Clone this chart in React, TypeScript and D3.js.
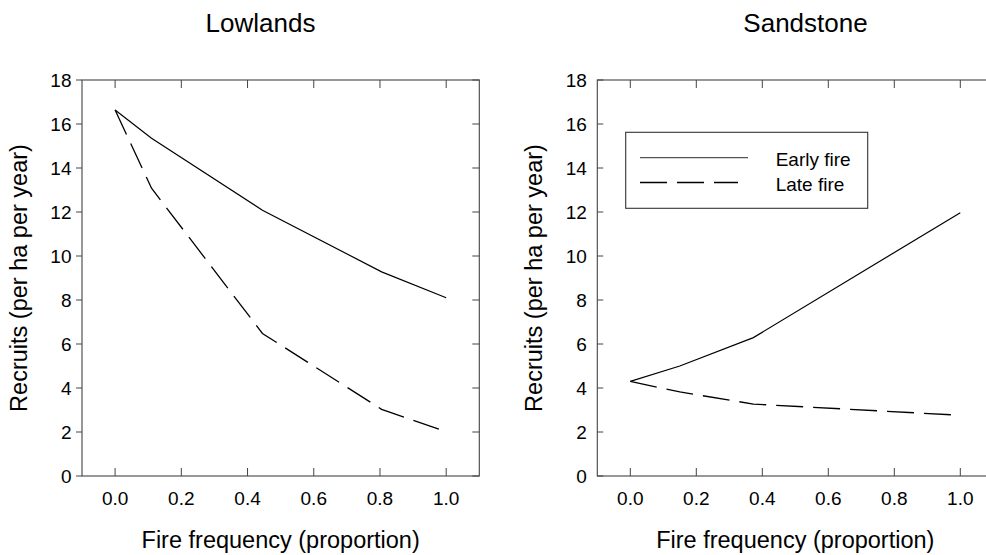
import React from "react";
import * as d3 from "d3";

const xTicks = [0, 0.2, 0.4, 0.6, 0.8, 1.0];
const yTicks = [0, 2, 4, 6, 8, 10, 12, 14, 16, 18];

const lowlandsX = [0, 0.11, 0.445, 0.805, 1.0];
const lowlandsEarly = [16.64, 15.35, 12.08, 9.28, 8.1];
const lowlandsLate = [16.64, 13.08, 6.48, 3.03, 2.01];

const sandstoneX = [0, 0.15, 0.373, 1.0];
const sandstoneEarly = [4.3, 5.0, 6.29, 11.97];
const sandstoneLate = [4.3, 3.82, 3.27, 2.76];

const panelTitles = ["Lowlands", "Sandstone"];
const seriesNames = ["Early fire", "Late fire"];
const xLabel = "Fire frequency (proportion)";
const yLabel = "Recruits (per ha per year)";

const FONT = "'Liberation Sans', Arial, Helvetica, sans-serif";
const FRAME = "#444";

type PanelProps = {
  x0: number;
  x1: number;
  title: string;
  titleX: number;
  xs: number[];
  early: number[];
  late: number[];
  yTickOut: boolean;
  legend?: boolean;
};

function Panel({ x0, x1, title, titleX, xs, early, late, yTickOut, legend }: PanelProps) {
  const top = 80;
  const bottom = 476;
  const x = d3.scaleLinear().domain([-0.1, 1.1]).range([x0, x1]);
  const y = d3.scaleLinear().domain([0, 18]).range([bottom, top]);
  const line = d3
    .line<[number, number]>()
    .x((d) => x(d[0]))
    .y((d) => y(d[1]));
  const earlyPath = line(xs.map((v, i) => [v, early[i]] as [number, number])) || "";
  const latePath = line(xs.map((v, i) => [v, late[i]] as [number, number])) || "";
  const cx = (x0 + x1) / 2;
  const cy = (top + bottom) / 2;
  return (
    <g>
      <text x={titleX} y={32} textAnchor="middle" fontSize={26} fontFamily={FONT} fill="#000">
        {title}
      </text>
      <rect x={x0} y={top} width={x1 - x0} height={bottom - top} fill="none" stroke={FRAME} strokeWidth={1.1} />
      {xTicks.map((t) => (
        <g key={"xt" + t}>
          <line x1={x(t)} x2={x(t)} y1={bottom} y2={bottom - 8} stroke={FRAME} strokeWidth={1} />
          <line x1={x(t)} x2={x(t)} y1={top} y2={top + 8} stroke={FRAME} strokeWidth={1} />
          <text x={x(t)} y={505} textAnchor="middle" fontSize={19} fontFamily={FONT} fill="#000">
            {t.toFixed(1)}
          </text>
        </g>
      ))}
      {yTicks.map((t) => (
        <g key={"yt" + t}>
          <line
            x1={x0}
            x2={yTickOut ? x0 - 6 : x0 + 6}
            y1={y(t)}
            y2={y(t)}
            stroke={FRAME}
            strokeWidth={1}
          />
          <line x1={x1} x2={x1 - 7} y1={y(t)} y2={y(t)} stroke={FRAME} strokeWidth={1} />
          <text
            x={x0 - 10.5}
            y={y(t)}
            dy="0.35em"
            textAnchor="end"
            fontSize={19}
            fontFamily={FONT}
            fill="#000"
          >
            {t}
          </text>
        </g>
      ))}
      <text x={cx} y={548} textAnchor="middle" fontSize={23.5} fontFamily={FONT} fill="#000">
        {xLabel}
      </text>
      <text
        transform={`translate(${x0 - 55},${cy}) rotate(-90)`}
        textAnchor="middle"
        fontSize={23.5}
        fontFamily={FONT}
        fill="#000"
      >
        {yLabel}
      </text>
      <path d={earlyPath} fill="none" stroke="#000" strokeWidth={1.2} />
      <path d={latePath} fill="none" stroke="#000" strokeWidth={1.3} strokeDasharray="27,10" />
      {legend && (
        <g>
          <rect x={625.7} y={132.3} width={242} height={76} fill="#fff" stroke="#333" strokeWidth={1.1} />
          <line x1={640} x2={748} y1={157.7} y2={157.7} stroke="#555" strokeWidth={1.2} />
          <line x1={640} x2={738} y1={182.5} y2={182.5} stroke="#000" strokeWidth={1.3} strokeDasharray="27,10" />
          <text x={775.7} y={165.5} fontSize={19} fontFamily={FONT} fill="#000">
            {seriesNames[0]}
          </text>
          <text x={775.7} y={190.5} fontSize={19} fontFamily={FONT} fill="#000">
            {seriesNames[1]}
          </text>
        </g>
      )}
    </g>
  );
}

export default function App() {
  return (
    <svg
      width={986}
      height={555}
      style={{ position: "absolute", left: 0, top: 0, background: "#fff" }}
    >
      <rect x={0} y={0} width={986} height={555} fill="#fff" />
      <Panel
        x0={82}
        x1={479.3}
        title={panelTitles[0]}
        titleX={260.5}
        xs={lowlandsX}
        early={lowlandsEarly}
        late={lowlandsLate}
        yTickOut={true}
      />
      <Panel
        x0={597.3}
        x1={993.3}
        title={panelTitles[1]}
        titleX={805.5}
        xs={sandstoneX}
        early={sandstoneEarly}
        late={sandstoneLate}
        yTickOut={false}
        legend={true}
      />
    </svg>
  );
}
